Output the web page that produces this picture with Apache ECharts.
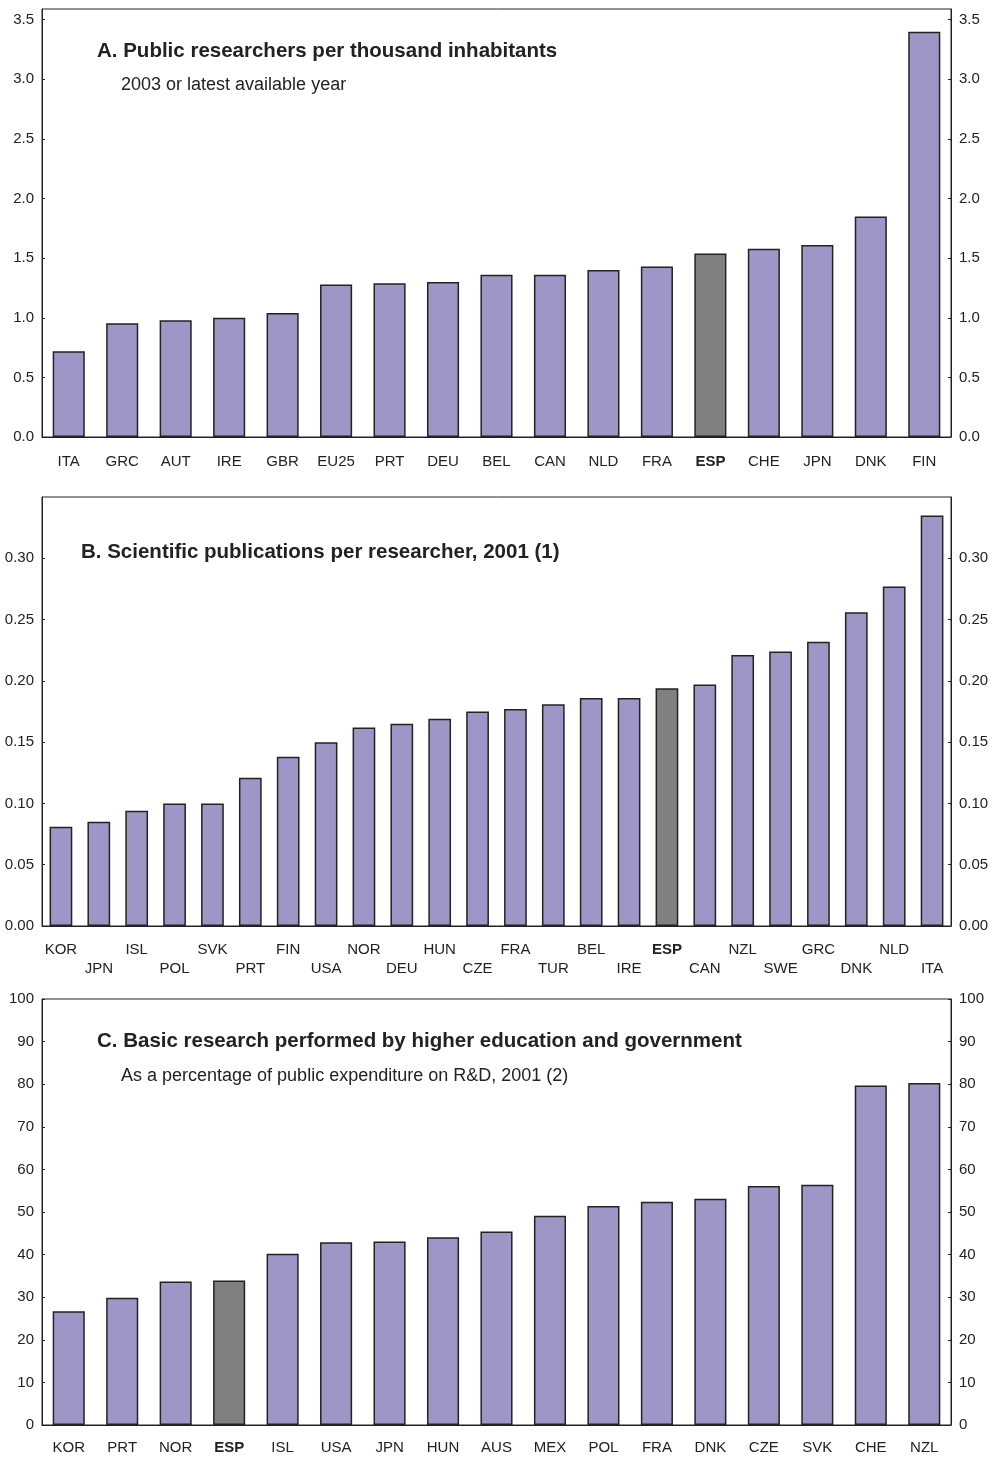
<!DOCTYPE html>
<html>
<head>
<meta charset="utf-8">
<script src="https://cdn.jsdelivr.net/npm/echarts@6/dist/echarts.min.js"></script>
<style>
  html, body { margin: 0; padding: 0; background: #fff; }
  #chart { width: 995px; height: 1457px; }
</style>
</head>
<body>
<div id="chart"></div>
<script>
// Panel A: public researchers per thousand inhabitants
const catsA = ['ITA','GRC','AUT','IRE','GBR','EU25','PRT','DEU','BEL','CAN','NLD','FRA','ESP','CHE','JPN','DNK','FIN'];
const valsA = [0.72,0.955,0.98,1.00,1.04,1.28,1.29,1.30,1.36,1.36,1.40,1.43,1.54,1.58,1.61,1.85,3.40];
const ticksA = { min: 0, max: 3.59, interval: 0.5 };

// Panel B: scientific publications per researcher, 2001
const catsB = ['KOR','JPN','ISL','POL','SVK','PRT','FIN','USA','NOR','DEU','HUN','CZE','FRA','TUR','BEL','IRE','ESP','CAN','NZL','SWE','GRC','DNK','NLD','ITA'];
const valsB = [0.081,0.085,0.094,0.100,0.100,0.121,0.138,0.150,0.162,0.165,0.169,0.175,0.177,0.181,0.186,0.186,0.194,0.197,0.221,0.224,0.232,0.256,0.277,0.335];
const ticksB = { min: 0, max: 0.35, interval: 0.05 };

// Panel C: basic research by higher education and government (% of public R&D)
const catsC = ['KOR','PRT','NOR','ESP','ISL','USA','JPN','HUN','AUS','MEX','POL','FRA','DNK','CZE','SVK','CHE','NZL'];
const valsC = [26.7,29.9,33.7,33.9,40.2,42.9,43.1,44.1,45.4,49.1,51.4,52.4,53.1,56.1,56.4,79.7,80.3];
const ticksC = { min: 0, max: 100, interval: 10 };

const HIGHLIGHT = 'ESP';
const BAR = '#9d97c8';
const BAR_HL = '#808080';
const INK = '#222222';
const FONT = '"Liberation Sans", Arial, Helvetica, sans-serif';

const grids = [
  { left: 42, right: 44, top: 9, height: 428 },
  { left: 42, right: 44, top: 497, height: 429 },
  { left: 42, right: 44, top: 999, height: 429 }
].map(g => Object.assign(g, { show: true, borderColor: INK, borderWidth: 1, backgroundColor: 'transparent' }));

function catAxis(gridIndex, cats, margin, stagger) {
  return {
    type: 'category', gridIndex, data: cats,
    axisLine: { lineStyle: { color: INK, width: 1 } },
    axisTick: { inside: true, length: 3, alignWithLabel: true, lineStyle: { color: INK } },
    axisLabel: {
      interval: 0, margin, color: INK, fontFamily: FONT, fontSize: 15, lineHeight: 19,
      formatter: (v, i) => {
        const t = v === HIGHLIGHT ? '{b|' + v + '}' : v;
        return stagger && i % 2 === 1 ? '\n' + t : t;
      },
      rich: { b: { fontWeight: 'bold', fontFamily: FONT, fontSize: 15, color: INK } }
    }
  };
}

function valAxis(gridIndex, t, pos, fmt) {
  return {
    type: 'value', gridIndex, position: pos, min: t.min, max: t.max, interval: t.interval,
    splitLine: { show: false },
    axisLine: { show: true, lineStyle: { color: INK, width: 1 } },
    axisTick: { show: true, inside: true, length: 3, lineStyle: { color: INK } },
    axisLabel: {
      showMaxLabel: t.max % t.interval === 0, margin: 8, color: INK, fontFamily: FONT, fontSize: 15,
      formatter: fmt
    }
  };
}

function barSeries(idx, cats, vals) {
  return {
    type: 'bar', xAxisIndex: idx, yAxisIndex: idx * 2, barWidth: '60%',
    data: vals.map((v, i) => ({
      value: v,
      itemStyle: { color: cats[i] === HIGHLIGHT ? BAR_HL : BAR }
    })),
    itemStyle: { borderColor: INK, borderWidth: 1.5 },
    emphasis: { disabled: true },
    animation: false
  };
}

const fmtA = v => v.toFixed(1);
const fmtB = v => v.toFixed(2);
const fmtC = v => String(Math.round(v));

const titleStyle = { fontFamily: FONT, fontSize: 20.5, fontWeight: 'bold', color: INK };
const subStyle = { fontFamily: FONT, fontSize: 18, fontWeight: 'normal', color: INK };

const option = {
  animation: false,
  backgroundColor: '#fff',
  title: [
    { text: 'A. Public researchers per thousand inhabitants', left: 97, top: 41, padding: 0, textStyle: titleStyle },
    { text: '2003 or latest available year', left: 121, top: 76, padding: 0, textStyle: subStyle },
    { text: 'B. Scientific publications per researcher, 2001 (1)', left: 81, top: 542, padding: 0, textStyle: titleStyle },
    { text: 'C. Basic research performed by higher education and government', left: 97, top: 1031, padding: 0, textStyle: titleStyle },
    { text: 'As a percentage of public expenditure on R&D, 2001 (2)', left: 121, top: 1067, padding: 0, textStyle: subStyle }
  ],
  grid: grids,
  xAxis: [
    catAxis(0, catsA, 15, false),
    catAxis(1, catsB, 14, true),
    catAxis(2, catsC, 13, false)
  ],
  yAxis: [
    valAxis(0, ticksA, 'left', fmtA), valAxis(0, ticksA, 'right', fmtA),
    valAxis(1, ticksB, 'left', fmtB), valAxis(1, ticksB, 'right', fmtB),
    valAxis(2, ticksC, 'left', fmtC), valAxis(2, ticksC, 'right', fmtC)
  ],
  series: [
    barSeries(0, catsA, valsA),
    barSeries(1, catsB, valsB),
    barSeries(2, catsC, valsC)
  ]
};

const chart = echarts.init(document.getElementById('chart'), null, { renderer: 'canvas' });
chart.setOption(option);
</script>
</body>
</html>
